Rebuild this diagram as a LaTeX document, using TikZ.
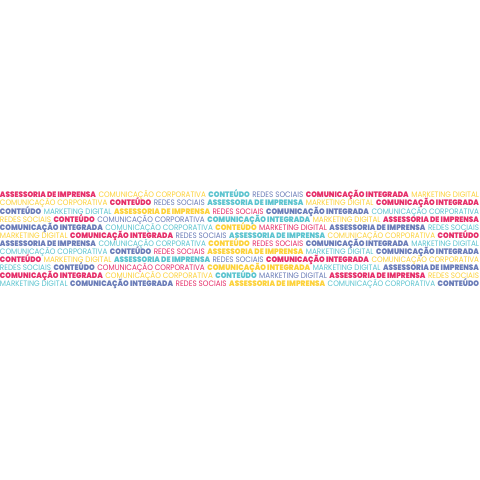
\documentclass[tikz,border=0pt]{standalone}
\usepackage{fontspec}
\usepackage{graphicx}
\newfontfamily\lightface{Poppins}
\newfontfamily\heavyface{Poppins Black}
\definecolor{pk}{HTML}{E6306A}
\definecolor{yl}{HTML}{FDD23A}
\definecolor{tl}{HTML}{5CC4CF}
\definecolor{sl}{HTML}{6B7DB8}
\newcommand\Bd[2]{{\color{#1}\heavyface #2}}
\newcommand\Lt[2]{{\color{#1}\lightface #2}}
\newcommand\PA{ASSESSORIA DE IMPRENSA}
\newcommand\PC{COMUNICAÇÃO CORPORATIVA}
\newcommand\PT{CONTEÚDO}
\newcommand\PR{REDES SOCIAIS}
\newcommand\PI{COMUNICAÇÃO INTEGRADA}
\newcommand\PM{MARKETING DIGITAL}
\newcommand\Row[6]{\resizebox{479pt}{\height}{\fontsize{7.9}{8}\selectfont #1 #2 #3 #4 #5 #6}}
\tikzset{rowtext/.style={anchor=west,inner sep=0pt,outer sep=0pt}}
\begin{document}
\begin{tikzpicture}[x=1pt,y=-1pt]
\useasboundingbox[fill=white] (0,0) rectangle (480,480);
\node[rowtext] (l1) at (0,195.0) {\Row{\Bd{pk}{\PA}}{\Lt{yl}{\PC}}{\Bd{tl}{\PT}}{\Lt{sl}{\PR}}{\Bd{pk}{\PI}}{\Lt{yl}{\PM}}};
\node[rowtext] (l2) at (0,203.1) {\Row{\Lt{yl}{\PC}}{\Bd{pk}{\PT}}{\Lt{sl}{\PR}}{\Bd{tl}{\PA}}{\Lt{yl}{\PM}}{\Bd{pk}{\PI}}};
\node[rowtext] (l3) at (0,211.2) {\Row{\Bd{sl}{\PT}}{\Lt{tl}{\PM}}{\Bd{yl}{\PA}}{\Lt{pk}{\PR}}{\Bd{sl}{\PI}}{\Lt{tl}{\PC}}};
\node[rowtext] (l4) at (0,219.3) {\Row{\Lt{yl}{\PR}}{\Bd{pk}{\PT}}{\Lt{sl}{\PC}}{\Bd{tl}{\PI}}{\Lt{yl}{\PM}}{\Bd{pk}{\PA}}};
\node[rowtext] (l5) at (0,227.4) {\Row{\Bd{sl}{\PI}}{\Lt{tl}{\PC}}{\Bd{yl}{\PT}}{\Lt{pk}{\PM}}{\Bd{sl}{\PA}}{\Lt{tl}{\PR}}};
\node[rowtext] (l6) at (0,235.5) {\Row{\Lt{yl}{\PM}}{\Bd{pk}{\PI}}{\Lt{sl}{\PR}}{\Bd{tl}{\PA}}{\Lt{yl}{\PC}}{\Bd{pk}{\PT}}};
\node[rowtext] (l7) at (0,243.6) {\Row{\Bd{sl}{\PA}}{\Lt{tl}{\PC}}{\Bd{yl}{\PT}}{\Lt{pk}{\PR}}{\Bd{sl}{\PI}}{\Lt{tl}{\PM}}};
\node[rowtext] (l8) at (0,251.7) {\Row{\Lt{tl}{\PC}}{\Bd{sl}{\PT}}{\Lt{pk}{\PR}}{\Bd{yl}{\PA}}{\Lt{tl}{\PM}}{\Bd{sl}{\PI}}};
\node[rowtext] (l9) at (0,259.8) {\Row{\Bd{pk}{\PT}}{\Lt{yl}{\PM}}{\Bd{tl}{\PA}}{\Lt{sl}{\PR}}{\Bd{pk}{\PI}}{\Lt{yl}{\PC}}};
\node[rowtext] (l10) at (0,267.9) {\Row{\Lt{tl}{\PR}}{\Bd{sl}{\PT}}{\Lt{pk}{\PC}}{\Bd{yl}{\PI}}{\Lt{tl}{\PM}}{\Bd{sl}{\PA}}};
\node[rowtext] (l11) at (0,276.0) {\Row{\Bd{pk}{\PI}}{\Lt{yl}{\PC}}{\Bd{tl}{\PT}}{\Lt{sl}{\PM}}{\Bd{pk}{\PA}}{\Lt{yl}{\PR}}};
\node[rowtext] (l12) at (0,284.1) {\Row{\Lt{tl}{\PM}}{\Bd{sl}{\PI}}{\Lt{pk}{\PR}}{\Bd{yl}{\PA}}{\Lt{tl}{\PC}}{\Bd{sl}{\PT}}};
\end{tikzpicture}
\end{document}
